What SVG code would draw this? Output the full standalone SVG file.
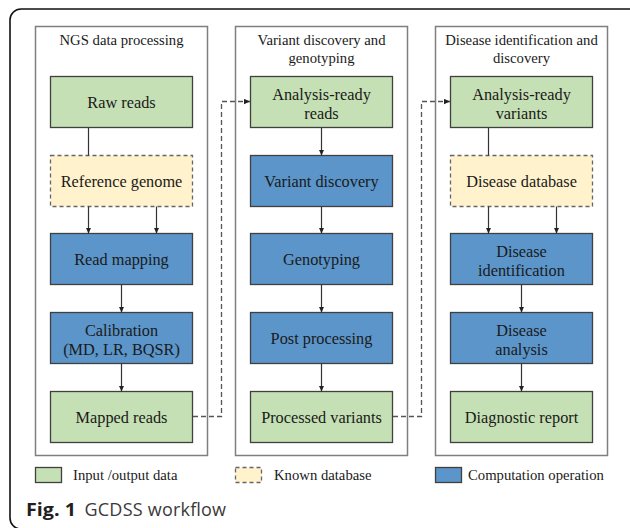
<svg xmlns="http://www.w3.org/2000/svg" width="630" height="528" viewBox="0 0 630 528">
<style>
.t{font-family:"Liberation Serif","Times New Roman",serif;fill:#1a1a1a;text-anchor:middle}
.bt{font-size:16.3px}
.pt{font-size:14.7px}
.lt{font-family:"Liberation Serif","Times New Roman",serif;font-size:14.7px;fill:#1a1a1a}
.panel{fill:#fff;stroke:#7f7f7f;stroke-width:1.5}
.io{fill:#c5e0b4;stroke:#404040;stroke-width:1.3}
.db{fill:#fff2cc;stroke:#666;stroke-width:1.3;stroke-dasharray:4 3}
.op{fill:#5b95ca;stroke:#404040;stroke-width:1.3}
.c{fill:none;stroke:#333;stroke-width:1.2}
.ca{fill:none;stroke:#333;stroke-width:1.2;marker-end:url(#ah)}
.d{fill:none;stroke:#555;stroke-width:1.3;stroke-dasharray:5 3;marker-end:url(#ah)}
.cap{font-family:"Open Sans","Noto Sans",sans-serif;font-size:18px}
</style>
<defs>
<marker id="ah" markerUnits="userSpaceOnUse" markerWidth="7" markerHeight="7" refX="6" refY="3" orient="auto">
<path d="M0,0.3 L6,3 L0,5.7 Z" fill="#222"/>
</marker>
</defs>
<rect x="10" y="9" width="640" height="520" rx="11" fill="#fff" stroke="#111" stroke-width="1.6"/>
<g id="panel1"><rect class="panel" x="35.5" y="26.5" width="172" height="429"/><text class="t pt" x="121.5" y="45">NGS data processing</text></g>
<g id="panel2"><rect class="panel" x="235.5" y="26.5" width="172" height="429"/><text class="t pt" x="321.5" y="45">Variant discovery and</text><text class="t pt" x="321.5" y="62.5">genotyping</text></g>
<g id="panel3"><rect class="panel" x="435.5" y="26.5" width="172" height="429"/><text class="t pt" x="521.5" y="45">Disease identification and</text><text class="t pt" x="521.5" y="62.5">discovery</text></g>

<g id="raw-reads"><rect class="io" x="50.5" y="76.5" width="142" height="51"/><text class="t bt" x="121.5" y="107.5">Raw reads</text></g>
<g id="reference-genome"><rect class="db" x="50.5" y="155.5" width="142" height="51"/><text class="t bt" x="121.5" y="186.5">Reference genome</text></g>
<g id="read-mapping"><rect class="op" x="50.5" y="233.5" width="142" height="51"/><text class="t bt" x="121.5" y="264.5">Read mapping</text></g>
<g id="calibration"><rect class="op" x="50.5" y="312.5" width="142" height="51"/><text class="t bt" x="121.5" y="335.5">Calibration</text><text class="t bt" x="121.5" y="355">(MD, LR, BQSR)</text></g>
<g id="mapped-reads"><rect class="io" x="50.5" y="391.5" width="142" height="51"/><text class="t bt" x="121.5" y="422.5">Mapped reads</text></g>

<g id="analysis-ready-reads"><rect class="io" x="250.5" y="76.5" width="142" height="51"/><text class="t bt" x="321.5" y="99.5">Analysis-ready</text><text class="t bt" x="321.5" y="119">reads</text></g>
<g id="variant-discovery"><rect class="op" x="250.5" y="155.5" width="142" height="51"/><text class="t bt" x="321.5" y="186.5">Variant discovery</text></g>
<g id="genotyping"><rect class="op" x="250.5" y="233.5" width="142" height="51"/><text class="t bt" x="321.5" y="264.5">Genotyping</text></g>
<g id="post-processing"><rect class="op" x="250.5" y="312.5" width="142" height="51"/><text class="t bt" x="321.5" y="343.5">Post processing</text></g>
<g id="processed-variants"><rect class="io" x="250.5" y="391.5" width="142" height="51"/><text class="t bt" x="321.5" y="422.5">Processed variants</text></g>

<g id="analysis-ready-variants"><rect class="io" x="450.5" y="76.5" width="142" height="51"/><text class="t bt" x="521.5" y="99.5">Analysis-ready</text><text class="t bt" x="521.5" y="119">variants</text></g>
<g id="disease-database"><rect class="db" x="450.5" y="155.5" width="142" height="51"/><text class="t bt" x="521.5" y="186.5">Disease database</text></g>
<g id="disease-identification"><rect class="op" x="450.5" y="233.5" width="142" height="51"/><text class="t bt" x="521.5" y="256.5">Disease</text><text class="t bt" x="521.5" y="276">identification</text></g>
<g id="disease-analysis"><rect class="op" x="450.5" y="312.5" width="142" height="51"/><text class="t bt" x="521.5" y="335.5">Disease</text><text class="t bt" x="521.5" y="355">analysis</text></g>
<g id="diagnostic-report"><rect class="io" x="450.5" y="391.5" width="142" height="51"/><text class="t bt" x="521.5" y="422.5">Diagnostic report</text></g>

<g id="connectors">
<path class="c" d="M88.5,127.5 V155.5"/>
<path class="ca" d="M88.5,206.5 V233.5"/>
<path class="ca" d="M156.5,206.5 V233.5"/>
<path class="ca" d="M121.5,284.5 V312.5"/>
<path class="ca" d="M121.5,363.5 V391.5"/>
<path class="ca" d="M321.5,127.5 V155.5"/>
<path class="ca" d="M321.5,206.5 V233.5"/>
<path class="ca" d="M321.5,284.5 V312.5"/>
<path class="ca" d="M321.5,363.5 V391.5"/>
<path class="c" d="M488.5,127.5 V155.5"/>
<path class="ca" d="M488.5,206.5 V233.5"/>
<path class="ca" d="M556.5,206.5 V233.5"/>
<path class="ca" d="M521.5,284.5 V312.5"/>
<path class="ca" d="M521.5,363.5 V391.5"/>
<path class="d" d="M193,416.5 H221.5 V101.5 H250"/>
<path class="d" d="M393,416.5 H421.5 V101.5 H450"/>
</g>

<g id="legend">
<rect class="io" x="35.5" y="467.5" width="26" height="15"/><text class="lt" x="73" y="480">Input /output data</text>
<rect class="db" x="235.5" y="467.5" width="26" height="15"/><text class="lt" x="274" y="480">Known database</text>
<rect class="op" x="435.5" y="467.5" width="26" height="15"/><text class="lt" x="468" y="480">Computation operation</text>
</g>
<text class="cap" x="26" y="516" font-weight="bold" fill="#231f20" textLength="50" lengthAdjust="spacingAndGlyphs">Fig. 1</text>
<text class="cap" x="84.5" y="516" fill="#3a3a3a" textLength="141.5" lengthAdjust="spacing">GCDSS workflow</text>
</svg>
